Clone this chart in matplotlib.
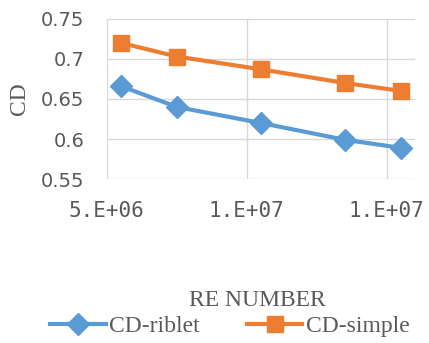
import matplotlib
matplotlib.use("Agg")
import matplotlib.pyplot as plt
from matplotlib.ticker import FixedLocator, FixedFormatter, MultipleLocator, FuncFormatter

# Reynolds number vs drag coefficient
re_number = [5.5e6, 7.5e6, 1.05e7, 1.35e7, 1.55e7]
cd_riblet = [0.666, 0.640, 0.620, 0.599, 0.589]
cd_simple = [0.720, 0.703, 0.687, 0.670, 0.660]

x_ticks = [5e6, 1e7, 1.5e7]
x_tick_labels = ['5.E+06', '1.E+07', '1.E+07']

BLUE = '#5B9BD5'
ORANGE = '#ED7D31'
GREY = '#595959'

fig = plt.figure(figsize=(4.29, 3.43), dpi=100)
ax = fig.add_axes([0.249, 0.478, 0.718, 0.467])

ax.plot(re_number, cd_riblet, color=BLUE, lw=3, marker='D', ms=11,
        label='CD-riblet', zorder=3)
ax.plot(re_number, cd_simple, color=ORANGE, lw=3, marker='s', ms=12,
        label='CD-simple', zorder=3)

ax.set_xlim(5e6, 1.6e7)
ax.set_ylim(0.55, 0.75)
ax.xaxis.set_major_locator(FixedLocator(x_ticks))
ax.xaxis.set_major_formatter(FixedFormatter(x_tick_labels))
ax.yaxis.set_major_locator(MultipleLocator(0.05))
ax.yaxis.set_major_formatter(FuncFormatter(lambda v, p: ('%.2f' % v).rstrip('0').rstrip('.')))

ax.grid(True, color='#D9D9D9', lw=1.0)
ax.set_axisbelow(True)
for sp in ax.spines.values():
    sp.set_visible(False)
ax.tick_params(length=0, colors=GREY)
ax.tick_params(axis='y', labelsize=14, pad=16)
ax.tick_params(axis='x', labelsize=15, pad=16)
for t in ax.get_xticklabels():
    t.set_fontfamily('DejaVu Sans Mono')

ax.set_ylabel('CD', family='Liberation Serif', fontsize=17, color=GREY, labelpad=8)
fig.text(0.601, 0.125, 'RE NUMBER', family='Liberation Serif', fontsize=17,
         color=GREY, ha='center', va='center')

fig.legend(loc='center', bbox_to_anchor=(0.536, 0.048), ncol=2, frameon=False,
           prop={'family': 'Liberation Serif', 'size': 17}, labelcolor=GREY,
           handlelength=2.35, handletextpad=0.15, columnspacing=2.0)

fig.savefig('out.png', dpi=100)
